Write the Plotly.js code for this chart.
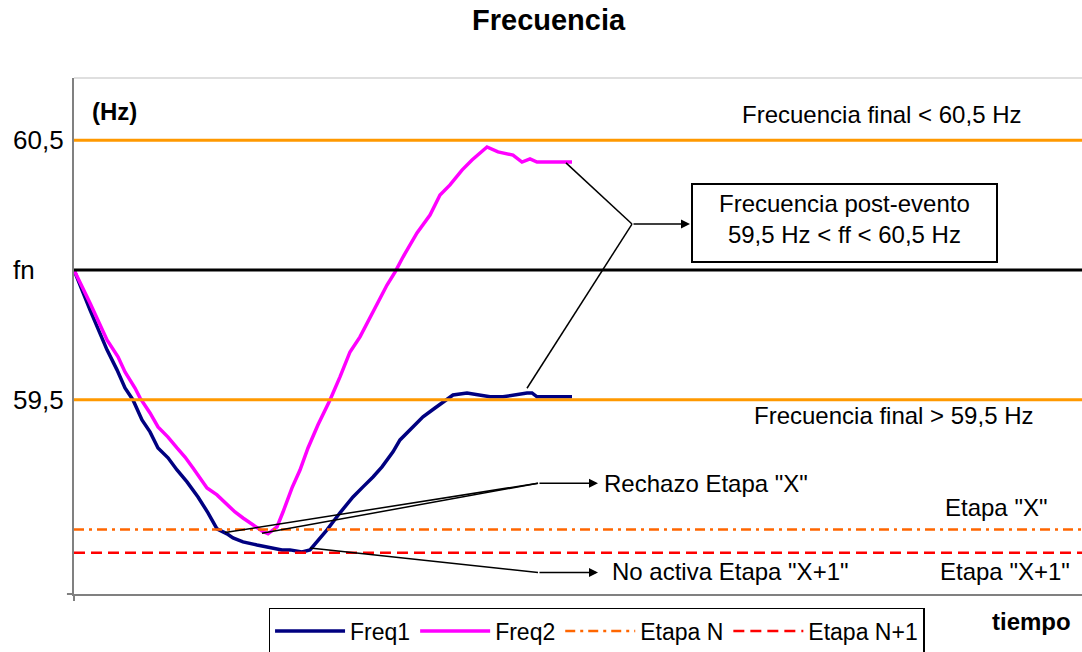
<!DOCTYPE html>
<html>
<head>
<meta charset="utf-8">
<script src="https://cdn.plot.ly/plotly-3.0.1.min.js"></script>
<style>
  html, body { margin: 0; padding: 0; background: #fff; }
  #chart { width: 1082px; height: 652px; }
</style>
</head>
<body>
<div id="chart"></div>
<script>
// Time axis (arbitrary units) and frequency samples of the two traces
const tFreq1 = [0, 1.6, 3.3, 4.3, 5.1, 5.9, 6.8, 7.6, 8.4, 9.4, 10.3, 11.3, 12.4, 13.4, 14.3, 15.3, 15.9, 16.9, 18.3, 19.3, 20.8, 21.6, 22.8, 23.6, 24.6, 25.3, 26.6, 27.9, 28.9, 29.9, 30.8, 31.9, 32.6, 33.9, 34.9, 36.1, 37.3, 37.9, 39.3, 40.3, 41.6, 42.9, 43.9, 45.3, 45.8, 46.3, 49.8];
const freq1 = [60.000, 59.846, 59.692, 59.615, 59.545, 59.499, 59.422, 59.376, 59.314, 59.276, 59.229, 59.183, 59.125, 59.064, 59.002, 58.983, 58.967, 58.952, 58.940, 58.933, 58.921, 58.921, 58.913, 58.921, 58.967, 58.998, 59.064, 59.125, 59.164, 59.202, 59.241, 59.299, 59.345, 59.395, 59.434, 59.468, 59.499, 59.518, 59.526, 59.518, 59.511, 59.511, 59.518, 59.526, 59.526, 59.511, 59.511];

const tFreq2 = [0, 1.6, 3.3, 4.4, 5.1, 6.1, 6.6, 7.6, 8.4, 9.4, 10.3, 11.1, 11.9, 13.3, 14.3, 15.3, 16.1, 16.9, 17.9, 18.8, 19.4, 20.3, 20.9, 21.8, 22.6, 23.4, 24.4, 25.6, 26.6, 27.6, 28.6, 29.6, 30.4, 31.3, 32.1, 32.9, 34.3, 35.6, 36.6, 37.6, 38.8, 39.8, 41.3, 42.4, 43.9, 44.8, 45.6, 46.3, 48.9, 49.8];
const freq2 = [60.000, 59.873, 59.730, 59.665, 59.607, 59.545, 59.507, 59.449, 59.395, 59.356, 59.314, 59.279, 59.237, 59.160, 59.133, 59.094, 59.067, 59.044, 59.017, 58.994, 58.983, 59.010, 59.067, 59.160, 59.229, 59.314, 59.403, 59.499, 59.588, 59.684, 59.742, 59.815, 59.873, 59.942, 59.992, 60.050, 60.143, 60.212, 60.289, 60.328, 60.385, 60.424, 60.474, 60.455, 60.443, 60.416, 60.428, 60.416, 60.416, 60.416];

// Reference levels (Hz)
const fNominal = 60.0;
const fUpper = 60.5;
const fLower = 59.5;
const etapaN = 59.0;
const etapaN1 = 58.91;

// Horizontal extent of the time axis
const tSpan = [0, 100.8];

// Left-hand level labels
const levelValues = [fUpper, fNominal, fLower];
const levelLabels = ['60,5', 'fn', '59,5'];

const FONT = 'Liberation Sans, Arial, Helvetica, sans-serif';

function hline(y, name, color, width, dash, showlegend) {
  return {
    x: tSpan, y: [y, y], mode: 'lines', name: name,
    line: { color: color, width: width, dash: dash || 'solid' },
    showlegend: showlegend, hoverinfo: 'skip'
  };
}

const traces = [
  { x: tFreq1, y: freq1, mode: 'lines', name: 'Freq1', line: { color: '#000080', width: 3.5 } },
  { x: tFreq2, y: freq2, mode: 'lines', name: 'Freq2', line: { color: '#FF00FF', width: 3.5 } },
  hline(fUpper, 'Límite superior', '#FF9900', 3, 'solid', false),
  hline(fNominal, 'fn', '#000000', 3, 'solid', false),
  hline(fLower, 'Límite inferior', '#FF9900', 3, 'solid', false),
  hline(etapaN, 'Etapa N', '#FF6600', 2.5, '10px,5px,3px,5px', true),
  hline(etapaN1, 'Etapa N+1', '#FF0000', 2.5, '11px,6px', true)
];

// Connector geometry for the callouts (time, Hz)
const joinPost = [55.8, 60.177];
const boxEdge = [61.6, 60.177];
const joinRechazo = [46.4, 59.178];
const joinNoActiva = [46.4, 58.834];
const arrowTipT = 52.4;

function seg(a, b) {
  return { type: 'line', xref: 'x', yref: 'y', x0: a[0], y0: a[1], x1: b[0], y1: b[1],
           line: { color: '#000', width: 1.5 } };
}
function arrow(tail, head) {
  return { xref: 'x', yref: 'y', axref: 'x', ayref: 'y', x: head[0], y: head[1], ax: tail[0], ay: tail[1],
           text: '', showarrow: true, arrowhead: 2, arrowsize: 1.2, arrowwidth: 1.5, arrowcolor: '#000',
           standoff: 0, startstandoff: 0 };
}
function label(t, f, text, opts) {
  return Object.assign({ xref: 'x', yref: 'y', x: t, y: f, text: text, showarrow: false,
           xanchor: 'left', yanchor: 'middle', font: { family: FONT, size: 24, color: '#000' } }, opts || {});
}

const shapes = [
  // light frame line along the top of the plot area
  { type: 'line', xref: 'paper', yref: 'paper', x0: 0, x1: 1, y0: 1, y1: 1, line: { color: '#d4d4d4', width: 1.5 } },
  // value-axis tick at the bottom
  { type: 'line', xref: 'paper', yref: 'paper', x0: -0.007, x1: 0, y0: 0, y1: 0, line: { color: '#808080', width: 2 } },
  // callout box
  { type: 'rect', xref: 'x', yref: 'y', x0: 61.8, x1: 92.3, y0: 60.031, y1: 60.331,
    line: { color: '#000', width: 2 }, fillcolor: '#fff' },
  seg([tFreq2[tFreq2.length - 1] - 0.6, freq2[freq2.length - 1] - 0.003], joinPost),
  seg([tFreq1[tFreq1.length - 4], freq1[freq1.length - 4] + 0.018], joinPost),
  seg([15.1, 58.988], joinRechazo),
  seg([18.8, 58.985], joinRechazo),
  seg([23.6, 58.928], joinNoActiva)
];

const annotations = [
  arrow(joinPost, boxEdge),
  arrow(joinRechazo, [arrowTipT, joinRechazo[1]]),
  arrow(joinNoActiva, [arrowTipT, joinNoActiva[1]]),
  label(77.05, 60.195, 'Frecuencia post-evento<br>59,5 Hz &lt; ff &lt; 60,5 Hz', { xanchor: 'center' }),
  label(66.6, 60.601, 'Frecuencia final &lt; 60,5 Hz'),
  label(67.8, 59.441, 'Frecuencia final &gt; 59,5 Hz'),
  label(86.9, 59.083, 'Etapa "X"'),
  label(86.4, 58.836, 'Etapa "X+1"'),
  label(52.8, 59.178, 'Rechazo Etapa "X"'),
  label(53.6, 58.836, 'No activa Etapa "X+1"'),
  label(1.6, 60.610, '<b>(Hz)</b>'),
  { xref: 'paper', yref: 'paper', x: 0.9087, y: -0.053, xanchor: 'left', yanchor: 'middle', showarrow: false,
    text: '<b>tiempo</b>', font: { family: FONT, size: 24, color: '#000' } }
].concat(levelValues.map((v, i) => ({
  xref: 'paper', yref: 'y', x: -0.0625, y: v, xanchor: 'left', yanchor: 'middle', showarrow: false,
  text: levelLabels[i], font: { family: FONT, size: 26, color: '#000' }
})));

const layout = {
  width: 1082, height: 652,
  margin: { l: 74, r: 0, t: 78, b: 58, autoexpand: false },
  paper_bgcolor: '#fff', plot_bgcolor: '#fff',
  font: { family: FONT, size: 24, color: '#000' },
  title: {
    text: '<b>Frecuencia</b>', font: { family: FONT, size: 29, color: '#000' },
    xref: 'container', yref: 'container', x: 0.507, y: 0.969, xanchor: 'center', yanchor: 'middle'
  },
  xaxis: {
    range: tSpan, showgrid: false, zeroline: false,
    showline: true, linecolor: '#808080', linewidth: 2,
    ticks: 'outside', tickvals: [0], ticklen: 5, tickwidth: 2, tickcolor: '#808080',
    showticklabels: false, fixedrange: true
  },
  yaxis: {
    range: [58.751, 60.740], showgrid: false, zeroline: false,
    showline: true, linecolor: '#808080', linewidth: 2,
    ticks: '', showticklabels: false, fixedrange: true
  },
  showlegend: true,
  legend: {
    orientation: 'h', x: 0.193, y: -0.027, xanchor: 'left', yanchor: 'top',
    bgcolor: '#fff', bordercolor: '#000', borderwidth: 1.5,
    itemwidth: 70, font: { family: FONT, size: 23, color: '#000' }, traceorder: 'normal'
  },
  shapes: shapes,
  annotations: annotations
};

Plotly.newPlot('chart', traces, layout, { displayModeBar: false, staticPlot: true });
</script>
</body>
</html>
